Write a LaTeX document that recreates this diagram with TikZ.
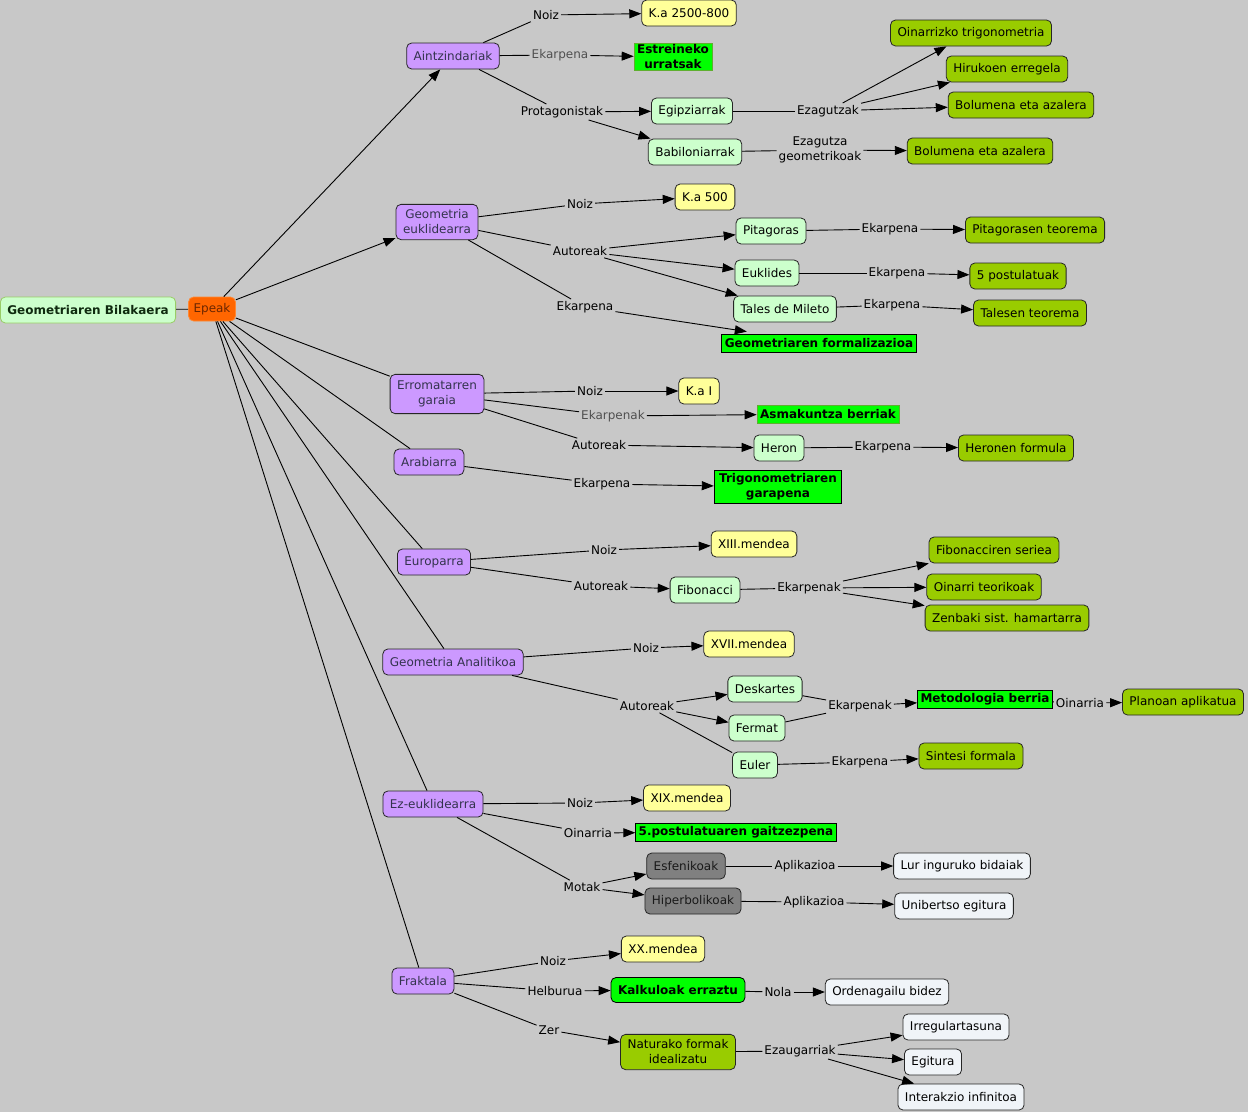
\documentclass[tikz,border=0pt]{standalone}
\usepackage{fontspec}
\setmainfont{DejaVu Sans}
\usetikzlibrary{arrows.meta,calc}
\definecolor{bgc}{HTML}{C8C8C8}
\definecolor{purp}{HTML}{CC99FF}
\definecolor{ptxt}{HTML}{33334D}
\definecolor{yell}{HTML}{FFFF99}
\definecolor{lgre}{HTML}{CCFFCC}
\definecolor{oliv}{HTML}{99CC00}
\definecolor{bgre}{HTML}{00FF00}
\definecolor{gedge}{HTML}{5FAF2F}
\definecolor{gbox}{HTML}{808080}
\definecolor{whit}{HTML}{F0F4F8}
\definecolor{rootf}{HTML}{CCFFCC}
\definecolor{rootd}{HTML}{99CC66}
\definecolor{roott}{HTML}{0F2A0F}
\definecolor{epf}{HTML}{FF6600}
\definecolor{epd}{HTML}{FF8833}
\definecolor{ept}{HTML}{6A2600}
\definecolor{glbl}{HTML}{505050}
\newcommand\fsz{\fontsize{12}{15}\selectfont}
\begin{document}
\begin{tikzpicture}[x=1pt,y=-1pt,
  every node/.style={font=\fsz},
  base/.style={rectangle, rounded corners=5pt, draw=black!85, line width=0.8pt, inner xsep=7pt, inner ysep=3pt, minimum height=26pt, align=center},
  prp/.style={base, fill=purp, text=ptxt},
  yel/.style={base, fill=yell},
  lgr/.style={base, fill=lgre},
  olv/.style={base, fill=oliv},
  gry/.style={base, fill=gbox, text=black!90},
  wht/.style={base, fill=whit},
  two/.style={inner ysep=5.5pt},
  grn/.style={rectangle, draw=black, line width=0.8pt, fill=bgre, font=\fsz\bfseries, inner xsep=3pt, inner ysep=1.5pt, minimum height=18pt, align=center},
  lbl/.style={inner sep=2pt, align=center, text=black},
  glb/.style={lbl, text=glbl},
  ln/.style={draw=black, line width=0.9pt},
  arr/.style={ln, -{Triangle[length=12pt,width=9pt]}}]
\fill[bgc] (0,0) rectangle (1248,1112);
\useasboundingbox (0,0) rectangle (1248,1112);

% root
\node[base, fill=rootf, draw=rootd, text=roott, font=\fsz\bfseries] (root) at (88,310) {Geometriaren Bilakaera};
\node[base, fill=epf, draw=epd, text=ept, inner xsep=5pt, minimum height=24pt] (ep) at (212,309) {Epeak};

% concepts
\node[prp] (aint) at (453,56) {Aintzindariak};
\node[yel] (ka1) at (689,13) {K.a 2500-800};
\node[grn, draw=gedge] (estr) at (673,57) {Estreineko\\urratsak};
\node[lgr] (egip) at (692,111) {Egipziarrak};
\node[lgr] (babi) at (695,152) {Babiloniarrak};
\node[olv] (oina) at (971,33) {Oinarrizko trigonometria};
\node[olv] (hiru) at (1007,69) {Hirukoen erregela};
\node[olv] (bol1) at (1021,105) {Bolumena eta azalera};
\node[olv] (bol2) at (980,151) {Bolumena eta azalera};

\node[prp, two] (geu) at (437,222) {Geometria\\euklidearra};
\node[yel] (ka2) at (705,197) {K.a 500};
\node[lgr] (pita) at (771,231) {Pitagoras};
\node[lgr] (eukl) at (767,273) {Euklides};
\node[lgr] (tale) at (785,309) {Tales de Mileto};
\node[grn] (gfor) at (819,343) {Geometriaren formalizazioa};
\node[olv] (ptoe) at (1035,230) {Pitagorasen teorema};
\node[olv] (post) at (1018,276) {5 postulatuak};
\node[olv] (tteo) at (1030,313) {Talesen teorema};

\node[prp, inner ysep=6.5pt] (erro) at (437,394) {Erromatarren\\garaia};
\node[yel] (ka3) at (699,391) {K.a I};
\node[grn, draw=gedge] (asma) at (828,414) {Asmakuntza berriak};
\node[lgr] (hero) at (779,448) {Heron};
\node[olv] (hfor) at (1016,448) {Heronen formula};

\node[prp] (arab) at (429,462) {Arabiarra};
\node[grn, inner xsep=5pt, inner ysep=3pt] (trig) at (778,487) {Trigonometriaren\\garapena};

\node[prp] (euro) at (434,562) {Europarra};
\node[yel] (m13) at (754,544) {XIII.mendea};
\node[lgr] (fibo) at (705,590) {Fibonacci};
\node[olv] (fser) at (994,550) {Fibonacciren seriea};
\node[olv] (oteo) at (984,587) {Oinarri teorikoak};
\node[olv] (zenb) at (1007,618) {Zenbaki sist. hamartarra};

\node[prp] (gan) at (453,662) {Geometria Analitikoa};
\node[yel] (m17) at (749,644) {XVII.mendea};
\node[lgr] (desk) at (765,689) {Deskartes};
\node[lgr] (ferm) at (757,728) {Fermat};
\node[lgr] (eule) at (755,765) {Euler};
\node[grn] (meto) at (985,699) {Metodologia berria};
\node[olv] (plan) at (1183,702) {Planoan aplikatua};
\node[olv] (sint) at (971,756) {Sintesi formala};

\node[prp] (ezeu) at (433,804) {Ez-euklidearra};
\node[yel] (m19) at (687,798) {XIX.mendea};
\node[grn] (p5) at (736,832) {5.postulatuaren gaitzezpena};
\node[gry] (esfe) at (686,866) {Esfenikoak};
\node[gry] (hipe) at (693,901) {Hiperbolikoak};
\node[wht] (lur) at (962,866) {Lur inguruko bidaiak};
\node[wht] (unib) at (954,906) {Unibertso egitura};

\node[prp] (frak) at (423,981) {Fraktala};
\node[yel] (m20) at (663,949) {XX.mendea};
\node[grn, rounded corners=5pt, inner xsep=7pt, minimum height=25pt] (kalk) at (678,990) {Kalkuloak erraztu};
\node[wht] (orde) at (887,992) {Ordenagailu bidez};
\node[olv, two] (natu) at (678,1052) {Naturako formak\\idealizatu};
\node[wht] (irre) at (956,1027) {Irregulartasuna};
\node[wht] (egit) at (933,1062) {Egitura};
\node[wht] (inte) at (961,1097) {Interakzio infinitoa};

% linking phrases
\node[lbl] (l1) at (546,15) {Noiz};
\node[glb] (l2) at (560,55) {Ekarpena};
\node[lbl] (l3) at (562,112) {Protagonistak};
\node[lbl] (l4) at (828,111) {Ezagutzak};
\node[lbl] (l5) at (820,150) {Ezagutza\\geometrikoak};
\node[lbl] (l6) at (580,204) {Noiz};
\node[lbl] (l7) at (580,251) {Autoreak};
\node[lbl] (l8) at (585,307) {Ekarpena};
\node[lbl] (l9) at (890,229) {Ekarpena};
\node[lbl] (l10) at (897,273) {Ekarpena};
\node[lbl] (l11) at (892,305) {Ekarpena};
\node[lbl] (l12) at (590,391) {Noiz};
\node[glb] (l13) at (613,416) {Ekarpenak};
\node[lbl] (l14) at (599,445) {Autoreak};
\node[lbl] (l15) at (883,447) {Ekarpena};
\node[lbl] (l16) at (602,484) {Ekarpena};
\node[lbl] (l17) at (604,550) {Noiz};
\node[lbl] (l18) at (601,586) {Autoreak};
\node[lbl] (l19) at (809,588) {Ekarpenak};
\node[lbl] (l20) at (646,648) {Noiz};
\node[lbl] (l21) at (647,706) {Autoreak};
\node[lbl] (l22) at (860,706) {Ekarpenak};
\node[lbl] (l23) at (1080,703) {Oinarria};
\node[lbl] (l24) at (860,762) {Ekarpena};
\node[lbl] (l25) at (580,803) {Noiz};
\node[lbl] (l26) at (588,833) {Oinarria};
\node[lbl] (l27) at (582,887) {Motak};
\node[lbl] (l28) at (805,866) {Aplikazioa};
\node[lbl] (l29) at (814,902) {Aplikazioa};
\node[lbl] (l30) at (553,961) {Noiz};
\node[lbl] (l31) at (555,991) {Helburua};
\node[lbl] (l32) at (778,992) {Nola};
\node[lbl] (l33) at (549,1030) {Zer};
\node[lbl] (l34) at (800,1051) {Ezaugarriak};

% connectors from root / Epeak
\draw[ln] (root) -- (ep);
\draw[arr] (ep) -- (aint);
\draw[arr] (ep) -- (geu);
\draw[ln] (ep) -- (erro);
\draw[ln] (ep) -- (arab);
\draw[ln] (ep) -- (euro);
\draw[ln] (ep) -- (gan);
\draw[ln] (ep) -- (ezeu);
\draw[ln] (ep) -- (frak);

% Aintzindariak
\draw[ln] (aint) -- (l1); \draw[arr] (l1) -- (ka1);
\draw[ln] (aint) -- (l2); \draw[arr] (l2) -- (estr);
\draw[ln] (aint) -- (l3); \draw[arr] (l3) -- (egip); \draw[arr] (l3) -- (babi);
\draw[ln] (egip) -- (l4); \draw[arr] (l4) -- (oina); \draw[arr] (l4) -- (hiru); \draw[arr] (l4) -- (bol1);
\draw[ln] (babi) -- (l5); \draw[arr] (l5) -- (bol2);

% Geometria euklidearra
\draw[ln] (geu) -- (l6); \draw[arr] (l6) -- (ka2);
\draw[ln] (geu) -- (l7); \draw[arr] (l7) -- (pita); \draw[arr] (l7) -- (eukl); \draw[arr] (l7) -- (tale);
\draw[ln] (geu) -- (l8); \draw[arr] (l8) -- ($(gfor.north west)!0.13!(gfor.north east)+(0,-2)$);
\draw[ln] (pita) -- (l9); \draw[arr] (l9) -- (ptoe);
\draw[ln] (eukl) -- (l10); \draw[arr] (l10) -- (post);
\draw[ln] (tale) -- (l11); \draw[arr] (l11) -- (tteo);

% Erromatarren garaia
\draw[ln] (erro) -- (l12); \draw[arr] (l12) -- (ka3);
\draw[ln] (erro) -- (l13); \draw[arr] (l13) -- (asma);
\draw[ln] (erro) -- (l14); \draw[arr] (l14) -- (hero);
\draw[ln] (hero) -- (l15); \draw[arr] (l15) -- (hfor);

% Arabiarra
\draw[ln] (arab) -- (l16); \draw[arr] (l16) -- (trig);

% Europarra
\draw[ln] (euro) -- (l17); \draw[arr] (l17) -- (m13);
\draw[ln] (euro) -- (l18); \draw[arr] (l18) -- (fibo);
\draw[ln] (fibo) -- (l19); \draw[arr] (l19) -- (fser); \draw[arr] (l19) -- (oteo); \draw[arr] (l19) -- (zenb);

% Geometria Analitikoa
\draw[ln] (gan) -- (l20); \draw[arr] (l20) -- (m17);
\draw[ln] (gan) -- (l21); \draw[arr] (l21) -- (desk); \draw[arr] (l21) -- (ferm); \draw[ln] (l21) -- (eule);
\draw[ln] (desk) -- (l22); \draw[ln] (ferm) -- (l22); \draw[arr] (l22) -- (meto);
\draw[ln] (meto) -- (l23); \draw[arr] (l23) -- (plan);
\draw[ln] (eule) -- (l24); \draw[arr] (l24) -- (sint);

% Ez-euklidearra
\draw[ln] (ezeu) -- (l25); \draw[arr] (l25) -- (m19);
\draw[ln] (ezeu) -- (l26); \draw[arr] (l26) -- (p5);
\draw[ln] (ezeu) -- (l27); \draw[arr] (l27) -- (esfe); \draw[arr] (l27) -- (hipe);
\draw[ln] (esfe) -- (l28); \draw[arr] (l28) -- (lur);
\draw[ln] (hipe) -- (l29); \draw[arr] (l29) -- (unib);

% Fraktala
\draw[ln] (frak) -- (l30); \draw[arr] (l30) -- (m20);
\draw[ln] (frak) -- (l31); \draw[arr] (l31) -- (kalk);
\draw[ln] (kalk) -- (l32); \draw[arr] (l32) -- (orde);
\draw[ln] (frak) -- (l33); \draw[arr] (l33) -- (natu);
\draw[ln] (natu) -- (l34); \draw[arr] (l34) -- (irre); \draw[arr] (l34) -- (egit); \draw[arr] (l34) -- (inte);
\end{tikzpicture}
\end{document}
